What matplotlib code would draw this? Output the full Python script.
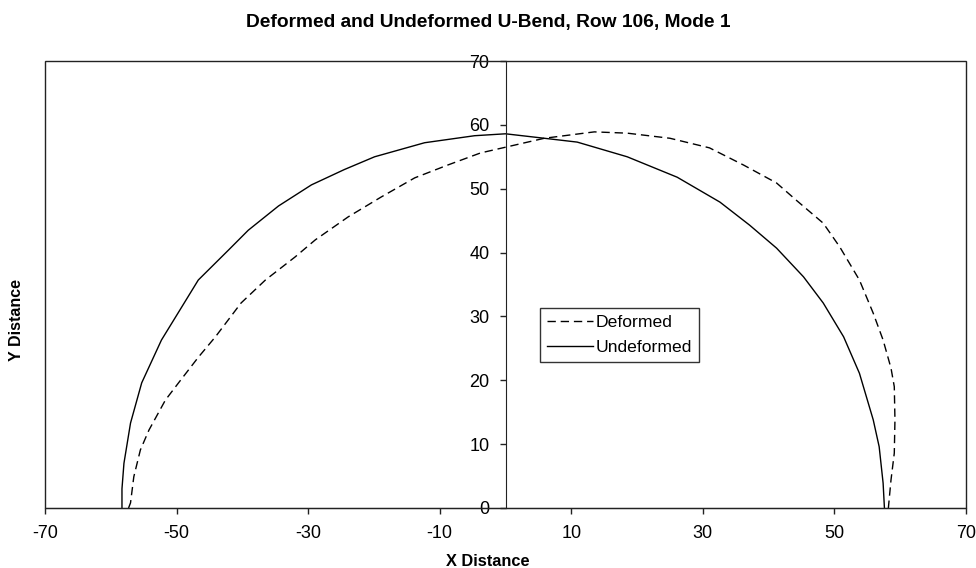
import numpy as np
import matplotlib
matplotlib.use("Agg")
import matplotlib.pyplot as plt
from matplotlib.patches import Rectangle

# Points
undeformed_x = [-58.3, -58.3, -58.0, -57.0, -55.3, -52.3, -49.2, -46.7, -42.1, -39.1,
                -34.5, -29.5, -24.5, -19.9, -12.3, -4.7, 0.0, 5.9, 10.9, 18.5,
                26.1, 32.6, 37.1, 41.2, 45.3, 48.3, 51.4, 53.8, 55.9, 56.8, 57.4, 57.6]
undeformed_y = [0.0, 3.0, 7.0, 13.3, 19.6, 26.3, 31.5, 35.7, 40.4, 43.5,
                47.3, 50.6, 53.0, 55.0, 57.2, 58.3, 58.6, 57.9, 57.3, 55.0,
                51.8, 47.9, 44.3, 40.7, 36.2, 32.1, 26.8, 21.1, 13.8, 9.6, 3.9, 0.0]

deformed_x = [-57.3, -57.0, -56.5, -55.5, -54.2, -51.7, -49.7, -46.7, -44.1, -40.2,
              -36.5, -32.0, -28.9, -23.9, -18.9, -13.8, -8.8, -3.8, 0.0, 5.9,
              13.5, 18.5, 25.0, 31.0, 36.2, 41.2, 44.2, 48.3, 50.8, 53.8,
              55.9, 57.4, 58.6, 59.1, 59.2, 59.1, 58.6, 58.2]
deformed_y = [0.0, 0.8, 4.9, 9.1, 12.2, 16.9, 19.6, 23.6, 26.8, 32.1,
              35.7, 39.3, 42.0, 45.6, 48.7, 51.7, 53.7, 55.6, 56.5, 57.9,
              58.9, 58.7, 57.9, 56.4, 53.7, 50.9, 48.2, 44.6, 40.9, 35.7,
              30.5, 26.3, 21.9, 19.0, 13.8, 8.6, 4.4, 0.0]

x_ticks = [-70, -50, -30, -10, 10, 30, 50, 70]
y_ticks = [0, 10, 20, 30, 40, 50, 60, 70]

plt.rcParams["font.family"] = ["Liberation Sans", "DejaVu Sans"]
plt.rcParams["axes.unicode_minus"] = False

fig = plt.figure(figsize=(9.76, 5.68), dpi=100)
ax = fig.add_axes([45 / 976, 60 / 568, 921 / 976, 447 / 568])

ax.plot(deformed_x, deformed_y, c="black", lw=1, dashes=(6, 3.5), label="Deformed")
ax.plot(undeformed_x, undeformed_y, c="black", lw=1, label="Undeformed")

ax.set_xlim(-70, 70)
ax.set_ylim(0, 70)
ax.set_xticks(x_ticks)
ax.set_yticks(y_ticks)

# y axis crosses at x = 0, frame drawn separately
ax.spines["left"].set_position(("data", 0))
for side in ["top", "right"]:
    ax.spines[side].set_visible(False)
ax.spines["left"].set_color("#222222")
ax.spines["bottom"].set_color("#222222")
ax.add_patch(Rectangle((0, 0), 1, 1, transform=ax.transAxes, fill=False,
                       edgecolor="#222222", lw=1, clip_on=False, zorder=5))

ax.tick_params(axis="both", direction="out", length=4, width=1, colors="#222222",
               labelsize=13, labelcolor="black")
ax.tick_params(axis="x", pad=8.5)
ax.tick_params(axis="y", pad=7.5)

fig.text(0.5, 1 - 22.5 / 568, "Deformed and Undeformed U-Bend, Row 106, Mode 1",
         ha="center", va="center", fontsize=13.8, fontweight="bold")
fig.text(0.5, 1 - 561 / 568, "X Distance", ha="center", va="center",
         fontsize=11.8, fontweight="bold")
fig.text(17 / 976, 1 - 320 / 568, "Y Distance", ha="center", va="center",
         rotation=90, fontsize=11.5, fontweight="bold")

leg = ax.legend(loc="upper left", bbox_to_anchor=(540 / 976, 1 - 308 / 568),
                bbox_transform=fig.transFigure, fontsize=12.6, frameon=True,
                fancybox=False, edgecolor="black", handlelength=2.6,
                borderpad=0.4, labelspacing=0.55, handletextpad=0.2,
                borderaxespad=0)
leg.get_frame().set_linewidth(1)

fig.savefig("out.png", dpi=100)
